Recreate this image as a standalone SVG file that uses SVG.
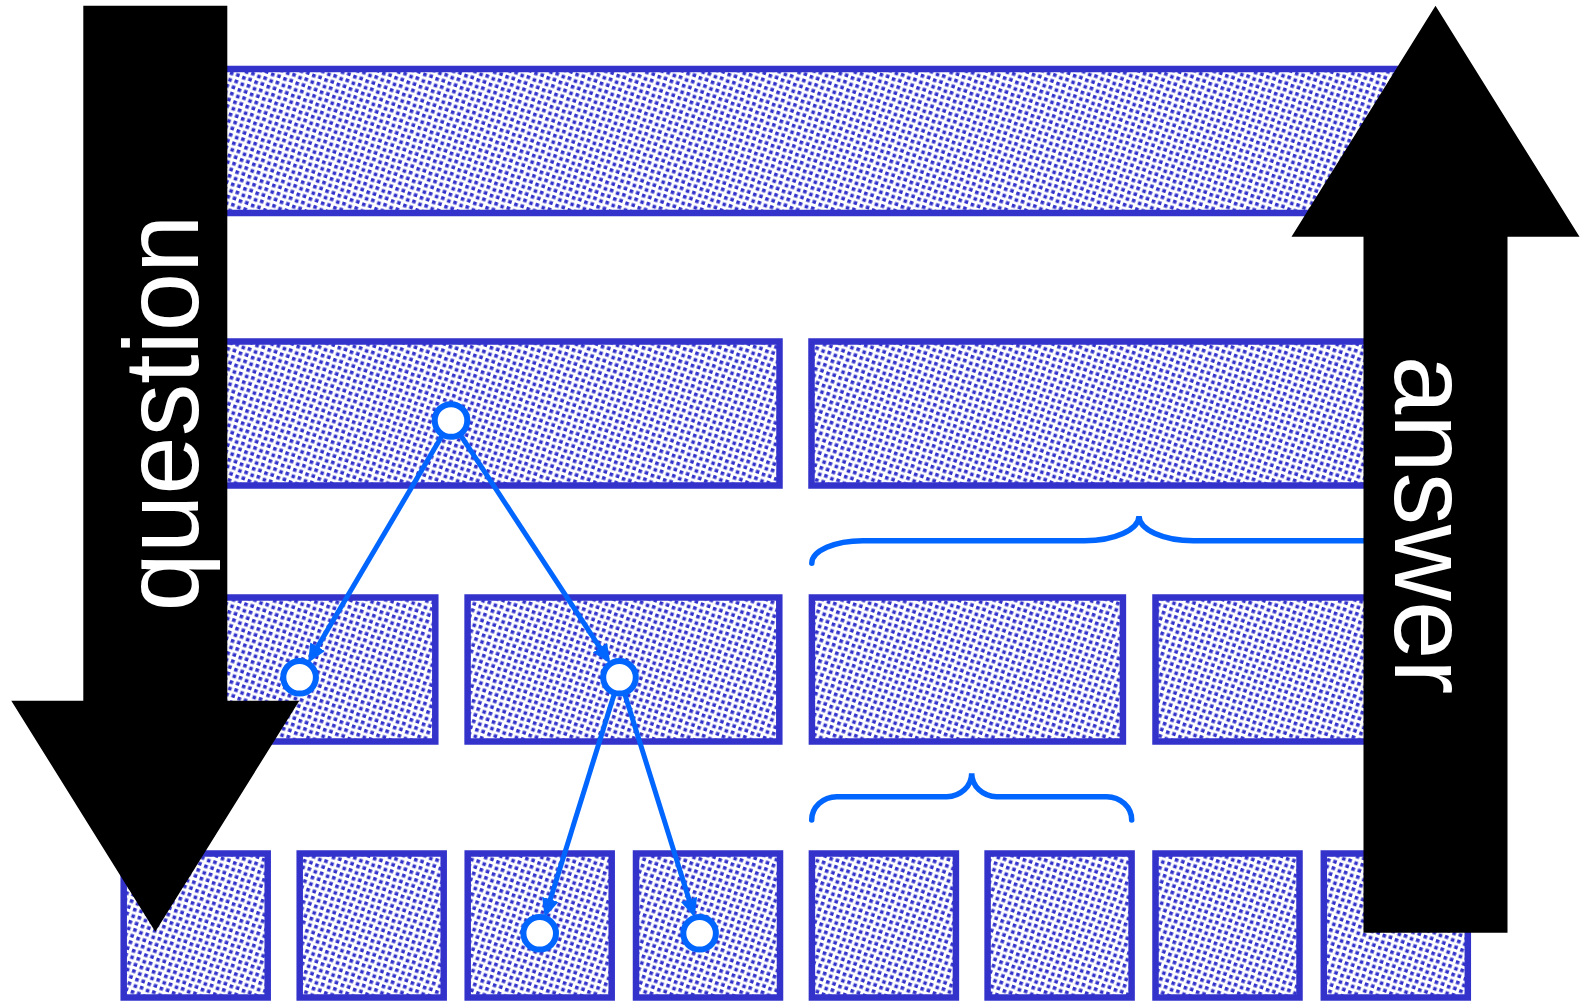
<svg xmlns="http://www.w3.org/2000/svg" width="1583" height="1001" viewBox="0 0 1583 1001">
  <defs>
    <pattern id="dots" patternUnits="userSpaceOnUse" width="13" height="13" patternTransform="rotate(20)">
      <rect x="0.4" y="0.4" width="3.6" height="3.6" fill="#3333cc"/>
      <rect x="7.0" y="1.0" width="3.6" height="3.6" fill="#3333cc"/>
      <rect x="1.1" y="7.0" width="3.6" height="3.6" fill="#3333cc"/>
      <rect x="7.7" y="7.6" width="3.6" height="3.6" fill="#3333cc"/>
    </pattern>
    <marker id="arr" markerUnits="userSpaceOnUse" markerWidth="19" markerHeight="17" viewBox="0 0 19 17" refX="5" refY="8.5" orient="auto">
      <path d="M0,0 L19,8.5 L0,17 Z" fill="#0066ff"/>
    </marker>
    <style>
      .box { fill: url(#dots); stroke: #3333cc; stroke-width: 6.5; }
      .brace { fill: none; stroke: #0066ff; stroke-width: 5.5; stroke-linecap: round; }
      .link { fill: none; stroke: #0066ff; stroke-width: 5; marker-end: url(#arr); }
      .dot { fill: #ffffff; stroke: #0066ff; stroke-width: 6; }
      .big { fill: #000000; }
      .lbl { fill: #ffffff; font-family: "Liberation Sans", Arial, Helvetica, sans-serif; font-size: 105px; text-anchor: middle; }
    </style>
  </defs>
  <rect width="1583" height="1001" fill="#ffffff"/>

  <g id="level0">
    <rect id="n-root" class="box" x="124" y="69" width="1344" height="144"/>
  </g>
  <g id="level1">
    <rect id="n-1a" class="box" x="124" y="341.5" width="655.5" height="144"/>
    <rect id="n-1b" class="box" x="811.5" y="341.5" width="656.5" height="144"/>
  </g>
  <g id="level2">
    <rect id="n-2a" class="box" x="124" y="597.5" width="311.3" height="144"/>
    <rect id="n-2b" class="box" x="467.6" y="597.5" width="311.7" height="144"/>
    <rect id="n-2c" class="box" x="811.9" y="597.5" width="311" height="144"/>
    <rect id="n-2d" class="box" x="1155.5" y="597.5" width="312.5" height="144"/>
  </g>
  <g id="level3">
    <rect id="n-3a" class="box" x="123.7" y="853.5" width="144" height="144"/>
    <rect id="n-3b" class="box" x="299.7" y="853.5" width="144" height="144"/>
    <rect id="n-3c" class="box" x="467.7" y="853.5" width="144" height="144"/>
    <rect id="n-3d" class="box" x="636" y="853.5" width="144" height="144"/>
    <rect id="n-3e" class="box" x="811.9" y="853.5" width="144" height="144"/>
    <rect id="n-3f" class="box" x="987.6" y="853.5" width="144" height="144"/>
    <rect id="n-3g" class="box" x="1155.5" y="853.5" width="144" height="144"/>
    <rect id="n-3h" class="box" x="1323.8" y="853.5" width="144" height="144"/>
  </g>

  <g id="braces">
    <path class="brace" d="M811.8,563.3 C811.8,550.9 834.7,540.7 862.7,540.7 L1084.5,540.7 C1114.5,540.7 1139,529.6 1139,516 C1139,529.6 1163.5,540.7 1193.5,540.7 L1415.3,540.7 C1443.3,540.7 1466.2,550.9 1466.2,563.3"/>
    <path class="brace" d="M811.7,820 C811.7,807.2 822.9,796.7 836.7,796.7 L946.7,796.7 C960.5,796.7 971.7,786.2 971.7,773.3 C971.7,786.2 982.9,796.7 996.7,796.7 L1106.7,796.7 C1120.5,796.7 1131.7,807.2 1131.7,820"/>
  </g>

  <g id="question-arrow">
    <path class="big" d="M83.3,5.7 L227.3,5.7 L227.3,700.7 L299.3,700.7 L155.3,931.7 L11.3,700.7 L83.3,700.7 Z"/>
    <text class="lbl" transform="translate(198,413) rotate(-90)">question</text>
  </g>
  <g id="answer-arrow">
    <path class="big" d="M1435.5,5.7 L1579.5,236.7 L1507.5,236.7 L1507.5,932.7 L1363.5,932.7 L1363.5,236.7 L1291.5,236.7 Z"/>
    <text class="lbl" transform="translate(1395,525) rotate(90)">answer</text>
  </g>

  <g id="connectors">
    <line class="link" x1="441.9" y1="436.0" x2="315.1" y2="651.0"/>
    <line class="link" x1="460.9" y1="435.6" x2="602.7" y2="651.8"/>
    <line class="link" x1="614.1" y1="694.5" x2="548.8" y2="904.2"/>
    <line class="link" x1="624.9" y1="694.5" x2="690.5" y2="904.2"/>
  </g>

  <g id="markers">
    <circle id="m0" class="dot" cx="451" cy="420.5" r="16.3"/>
    <circle id="m1" class="dot" cx="299.6" cy="677.3" r="16.3"/>
    <circle id="m2" class="dot" cx="619.5" cy="677.3" r="16.3"/>
    <circle id="m3" class="dot" cx="539.7" cy="933.3" r="16.3"/>
    <circle id="m4" class="dot" cx="699.6" cy="933.3" r="16.3"/>
  </g>
</svg>
